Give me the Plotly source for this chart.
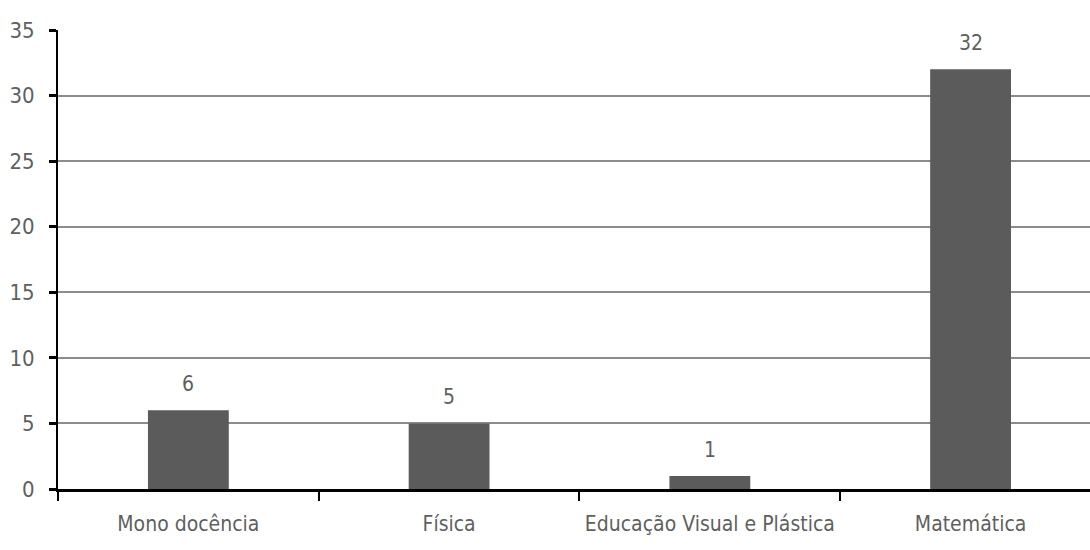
import plotly.graph_objects as go

categorias = ["Mono docência", "Física", "Educação Visual e Plástica", "Matemática"]
valores = [6, 5, 1, 32]
y_ticks = [0, 5, 10, 15, 20, 25, 30, 35]

FONT = "DejaVu Sans Condensed, Liberation Sans Narrow, sans-serif"
TXT = "#5f5f5f"

fig = go.Figure()
fig.add_trace(go.Bar(
    x=categorias,
    y=valores,
    marker=dict(color="#5b5b5b", line=dict(width=0)),
    width=0.31,
    hoverinfo="skip",
))

# value labels above each bar
for c, v in zip(categorias, valores):
    fig.add_annotation(x=c, y=v, text=str(v), showarrow=False,
                       yanchor="bottom", yshift=12,
                       font=dict(family=FONT, size=21, color=TXT))

fig.update_layout(
    width=1090, height=550,
    margin=dict(l=58, r=0, t=30, b=61, autoexpand=False),
    paper_bgcolor="white", plot_bgcolor="white",
    showlegend=False,
    font=dict(family=FONT, size=22, color=TXT),
)
fig.update_xaxes(
    type="category",
    range=[-0.5, 3.458],
    tickson="boundaries",
    ticks="outside", ticklen=9, tickwidth=2, tickcolor="black",
    showline=True, linecolor="black", linewidth=3,
    showgrid=False,
    tickangle=0,
    tickfont=dict(family=FONT, size=21, color=TXT),
    ticklabelstandoff=14,
    automargin=False,
)
fig.update_yaxes(
    range=[0, 35],
    tickvals=y_ticks,
    ticks="outside", ticklen=7, tickwidth=3, tickcolor="black",
    showline=True, linecolor="black", linewidth=2,
    showgrid=True, gridcolor="#8c8c8c", gridwidth=1.5,
    zeroline=False,
    tickfont=dict(family=FONT, size=22, color=TXT),
    ticklabelstandoff=10,
    automargin=False,
)

fig.write_html("out.html")
